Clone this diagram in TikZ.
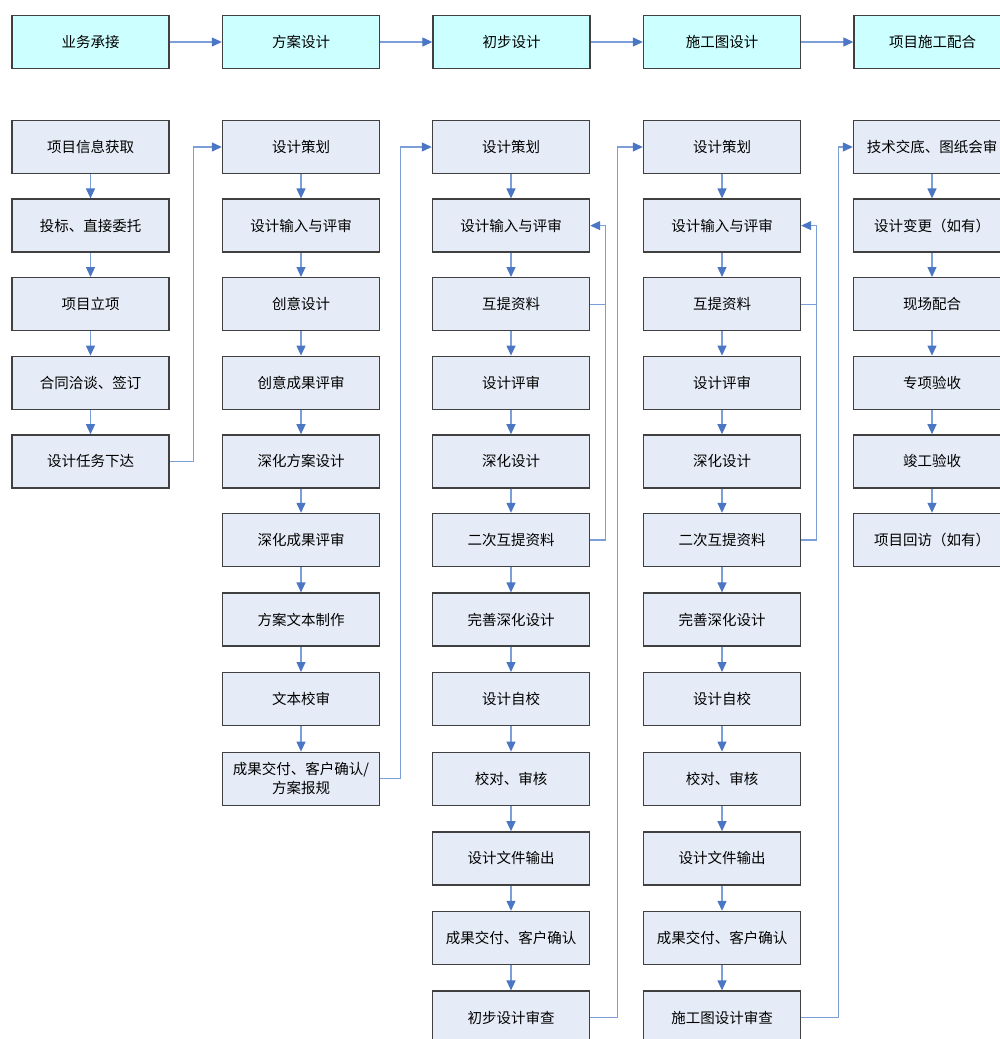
\documentclass[tikz,border=0pt]{standalone}
\usepackage{fontspec}
\setmainfont{Noto Sans CJK SC}
\usetikzlibrary{arrows.meta, positioning}

\definecolor{headfill}{HTML}{CCFFFF}
\definecolor{stepfill}{HTML}{E6ECF7}
\definecolor{boxline}{HTML}{404040}
\definecolor{flowline}{HTML}{7B9FD6}
\definecolor{flowtip}{HTML}{4A76C4}

\begin{document}
\begin{tikzpicture}
	[%
	x=1pt, y=-1pt,
	head/.style    ={rectangle,	draw=boxline,	fill=headfill,	line width=1.4pt,	inner sep=0pt,	minimum width=157pt,	minimum height=53pt,	font=\fontsize{14.5}{17}\selectfont},%
	stepbox/.style ={rectangle,	draw=boxline,	fill=stepfill,	line width=1.4pt,	inner sep=0pt,	minimum width=157pt,	minimum height=53pt,	align=center,	font=\fontsize{14.5}{19}\selectfont},%
	flow/.style    ={draw=flowline,	line width=1.2pt,	-{Triangle[width=9pt,length=10pt,color=flowtip]}},%
	link/.style    ={draw=flowline,	line width=1.2pt},%
	declare function={rowy(\n)=(\n<=5)*(147+78.6*\n)+(\n>5)*(540+79.6*(\n-5));},
	]

	\useasboundingbox (0,0) rectangle (1000,1039);

	\newcommand\colA{90.5}
	\newcommand\colB{301}
	\newcommand\colC{511}
	\newcommand\colD{722}
	\newcommand\colE{932}

	% stages
	\foreach \t [count=\i from 0] in {业务承接,方案设计,初步设计,施工图设计,项目施工配合}%
		\node (h\i) at ({90.5+210.5*\i},42) [head] {\t};
	\foreach \i [evaluate=\i as \j using int(\i+1)] in {0,1,2,3}%
		\draw [flow] (h\i) -- (h\j);

	% steps
	\foreach \t [count=\i from 0] in {项目信息获取,投标、直接委托,项目立项,合同洽谈、签订,设计任务下达}%
		\node (a\i) at (\colA,{rowy(\i)}) [stepbox] {\t};

	\foreach \t [count=\i from 0] in {设计策划,设计输入与评审,创意设计,创意成果评审,深化方案设计,深化成果评审,方案文本制作,文本校审,{成果交付、客户确认/\\方案报规}}%
		\node (b\i) at (\colB,{rowy(\i)}) [stepbox] {\t};

	\foreach \t [count=\i from 0] in {设计策划,设计输入与评审,互提资料,设计评审,深化设计,二次互提资料,完善深化设计,设计自校,校对、审核,设计文件输出,成果交付、客户确认,初步设计审查}%
		\node (p\i) at (\colC,{rowy(\i)}) [stepbox] {\t};

	\foreach \t [count=\i from 0] in {设计策划,设计输入与评审,互提资料,设计评审,深化设计,二次互提资料,完善深化设计,设计自校,校对、审核,设计文件输出,成果交付、客户确认,施工图设计审查}%
		\node (s\i) at (\colD,{rowy(\i)}) [stepbox] {\t};

	\foreach \t [count=\i from 0] in {技术交底、图纸会审,设计变更（如有）,现场配合,专项验收,竣工验收,项目回访（如有）}%
		\node (e\i) at (\colE,{rowy(\i)}) [stepbox] {\t};

	% arrows down each column
	\foreach \i [evaluate=\i as \j using int(\i+1)] in {0,...,3}%
		\draw [flow] (a\i) -- (a\j);
	\foreach \i [evaluate=\i as \j using int(\i+1)] in {0,...,7}%
		\draw [flow] (b\i) -- (b\j);
	\foreach \i [evaluate=\i as \j using int(\i+1)] in {0,...,10}%
		\draw [flow] (p\i) -- (p\j);
	\foreach \i [evaluate=\i as \j using int(\i+1)] in {0,...,10}%
		\draw [flow] (s\i) -- (s\j);
	\foreach \i [evaluate=\i as \j using int(\i+1)] in {0,...,4}%
		\draw [flow] (e\i) -- (e\j);

	% feedback to design input
	\draw [flow] (p5.east) -- ++(15,0) |- (p1.east);
	\draw [link] (p2.east) -- ++(15,0);
	\draw [flow] (s5.east) -- ++(15,0) |- (s1.east);
	\draw [link] (s2.east) -- ++(15,0);

	% column to column
	\draw [flow] (a4.east) -- ++(24,0) |- (b0.west);
	\draw [flow] (b8.east) -- ++(20,0) |- (p0.west);
	\draw [flow] (p11.east) -- ++(27,0) |- (s0.west);
	\draw [flow] (s11.east) -- ++(37,0) |- (e0.west);

\end{tikzpicture}
\end{document}
